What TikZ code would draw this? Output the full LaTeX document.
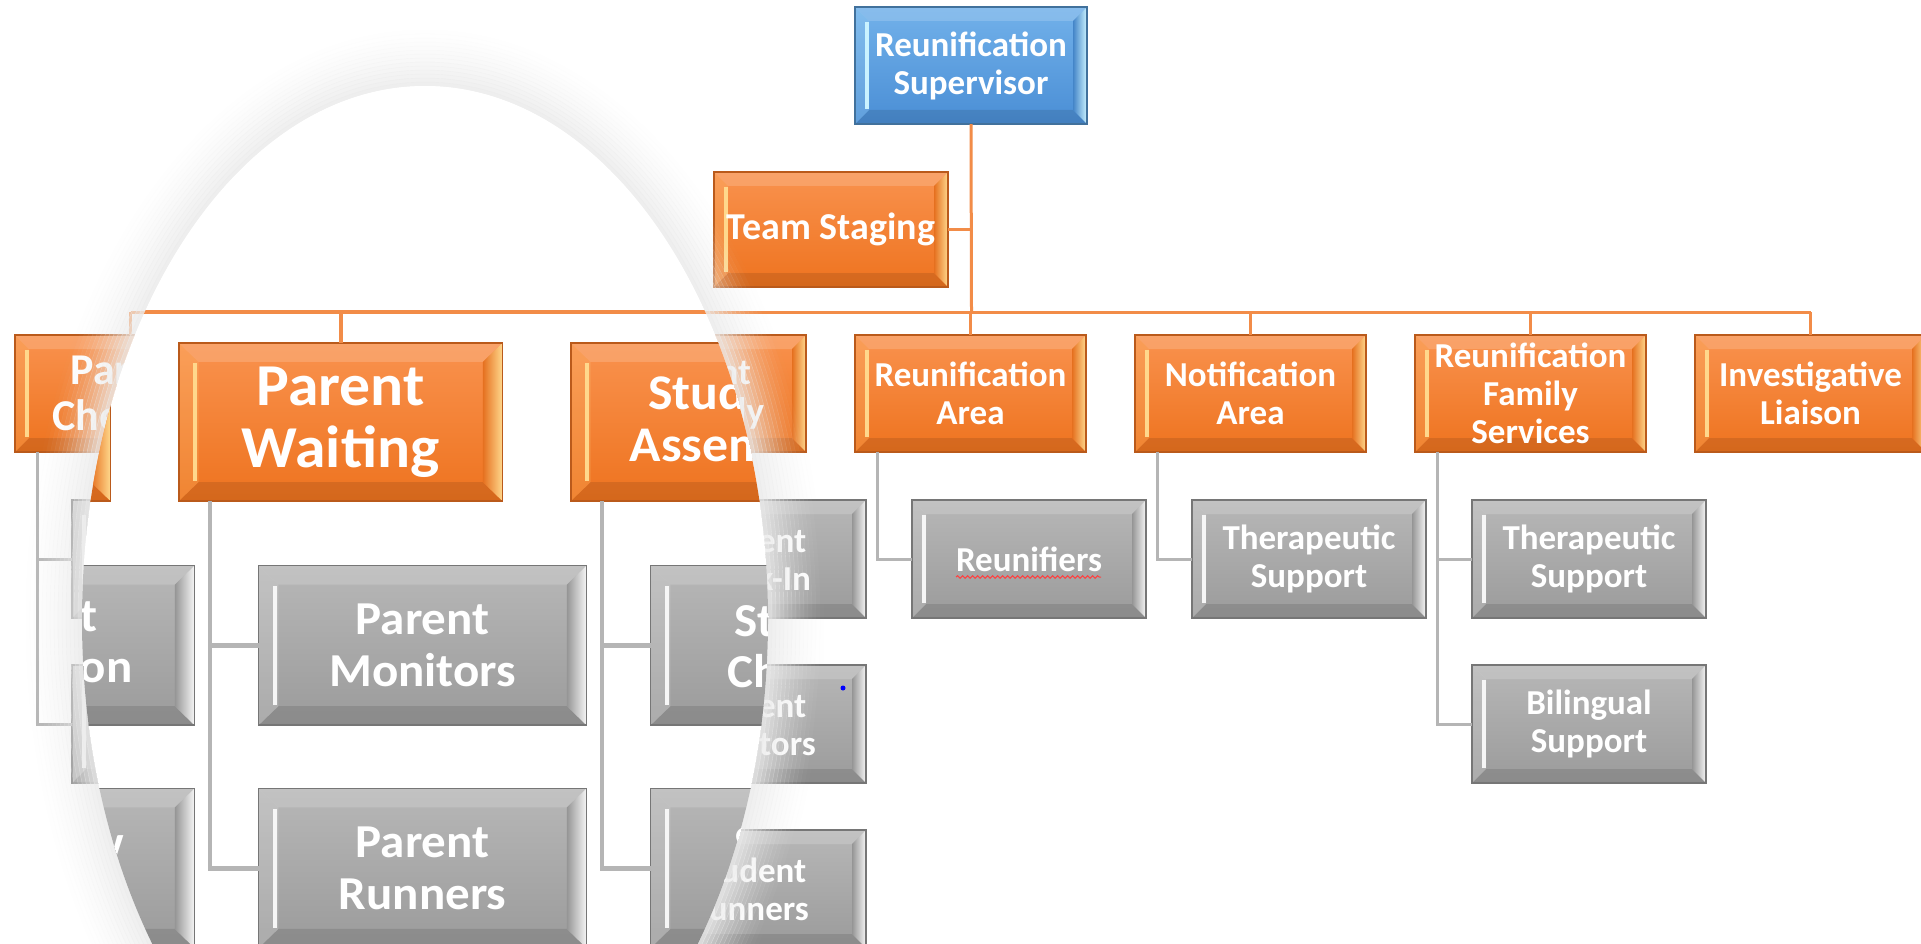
\documentclass[tikz,border=0pt]{standalone}
\usepackage{fontspec}
\setmainfont{Carlito}
\usetikzlibrary{decorations.pathmorphing}
\definecolor{otop}{HTML}{F9924E}
\definecolor{obot}{HTML}{EE731F}
\definecolor{ohi}{HTML}{FFD88C}
\definecolor{odark}{HTML}{E5701F}
\definecolor{oborder}{HTML}{BA5A1B}
\definecolor{gtop}{HTML}{B7B7B7}
\definecolor{gbot}{HTML}{9B9B9B}
\definecolor{ghi}{HTML}{F6F6F6}
\definecolor{gdark}{HTML}{959595}
\definecolor{gborder}{HTML}{767676}
\definecolor{btop}{HTML}{72B1EA}
\definecolor{bbot}{HTML}{4A8ED5}
\definecolor{bhi}{HTML}{C9F2FF}
\definecolor{bdark}{HTML}{4485C8}
\definecolor{bborder}{HTML}{41719C}
\definecolor{olinec}{HTML}{F28C48}
\definecolor{glinec}{HTML}{B5B5B5}
\definecolor{shadowc}{HTML}{EBEBEB}
\tikzset{
  ofill/.style={top color=otop, bottom color=obot},
  gfill/.style={top color=gtop, bottom color=gbot},
  bfill/.style={top color=btop, bottom color=bbot},
  boxtext/.style={transform shape, inner sep=0pt, align=center, text=white},
  oline/.style={draw=olinec, line width=\olw},
  gline/.style={draw=glinec, line width=\glw},
}
\newcommand\ftA{\fontsize{35}{38}\selectfont\bfseries}
\newcommand\ftT{\fontsize{38}{40}\selectfont\bfseries}
\newcommand\ftC{\fontsize{37}{39}\selectfont\bfseries}
\newcommand\ftB{\fontsize{44}{46}\selectfont\bfseries}
\def\bd{14}
\def\olw{3pt}
\def\glw{3pt}
% #1 name, #2 kind (o,g,b), #3 x0, #4 y0, #5 w, #6 h, #7 font, #8 text
\newcommand\chartbox[8]{%
  \pgfmathsetmacro\xa{#3}\pgfmathsetmacro\ya{#4}%
  \pgfmathsetmacro\xb{#3+#5}\pgfmathsetmacro\yb{#4+#6}%
  \pgfmathsetmacro\xc{#3+\bd}\pgfmathsetmacro\yc{#4+\bd}%
  \pgfmathsetmacro\xd{#3+#5-\bd}\pgfmathsetmacro\yd{#4+#6-\bd}%
  \path[#2fill] (\xa,\ya) rectangle (\xb,\yb);
  \fill[white,opacity=.16] (\xa,\ya)--(\xb,\ya)--(\xd,\yc)--(\xc,\yc)--cycle;
  \fill[black,opacity=.10] (\xa,\yb)--(\xb,\yb)--(\xd,\yd)--(\xc,\yd)--cycle;
  \fill[color=#2hi,opacity=.18] (\xa,\ya)--(\xc,\yc)--(\xc,\yd)--(\xa,\yb)--cycle;
  \draw[color=#2hi, line width=4pt] (\xc-2.5,\yc+1)--(\xc-2.5,\yd-1);
  \shade[left color=#2dark, right color=#2hi] (\xb,\ya)--(\xd,\yc)--(\xd,\yd)--(\xb,\yb)--cycle;
  \draw[color=#2border, line width=1.3pt] (\xa,\ya) rectangle (\xb,\yb);
  \node[boxtext, minimum width=#5pt, minimum height=#6pt, font=#7] (#1) at ({(\xa+\xb)/2},{(\ya+\yb)/2}) {#8};
  \coordinate (#1-stem) at (\xa+22,\yb);
}
% boxes of the left branch seen both at normal size and through the lens
\newcommand\leftgroup{%
  \chartbox{pci}{o}{15}{335}{231}{117}{\ftB}{Parent\\Check-In}
  \chartbox{sa}{o}{575}{335}{231}{117}{\ftC}{Student\\Assembly}
  \chartbox{pci1}{g}{72}{500}{234}{118}{\ftA}{Parent\\Reception}
  \chartbox{pci2}{g}{72}{665}{234}{118}{\ftA}{Overflow\\Area}
  \chartbox{sa1}{g}{632}{500}{234}{118}{\ftA}{Student\\Check-In}
  \chartbox{sa2}{g}{632}{665}{234}{118}{\ftA}{Student\\Monitors}
  \coordinate (bar) at (971.5,312);
}
\begin{document}
\begin{tikzpicture}[x=1pt,y=-1pt]
\useasboundingbox (0,0) rectangle (1921,944);
\clip (0,0) rectangle (1921,944);
\fill[white] (0,0) rectangle (1921,944);
% ---------- normal-size chart ----------
\leftgroup
\chartbox{sup}{b}{855}{7}{232}{117}{\ftA}{Reunification\\Supervisor}
\chartbox{ts}{o}{714}{172}{234}{115}{\ftT}{Team Staging}
\chartbox{ra}{o}{855}{335}{231}{117}{\ftA}{Reunification\\Area}
\chartbox{na}{o}{1135}{335}{231}{117}{\ftA}{Notification\\Area}
\chartbox{rfs}{o}{1415}{335}{231}{117}{\ftA}{Reunification\\Family\\Services}
\chartbox{il}{o}{1695}{335}{231}{117}{\ftA}{Investigative\\Liaison}
\chartbox{sa3}{g}{632}{830}{234}{118}{\ftA}{Student\\Runners}
\chartbox{ra1}{g}{912}{500}{234}{118}{\ftA}{Reunifiers}
\chartbox{na1}{g}{1192}{500}{234}{118}{\ftA}{Therapeutic\\Support}
\chartbox{rfs1}{g}{1472}{500}{234}{118}{\ftA}{Therapeutic\\Support}
\chartbox{rfs2}{g}{1472}{665}{234}{118}{\ftA}{Bilingual\\Support}
\draw[oline] (sup.south) -- (bar);
\draw[oline] (ts.east) -- (ts.east -| bar);
\draw[oline] (pci.north |- bar) -- (il.north |- bar);
\foreach \n in {pci,sa,ra,na,rfs,il}{\draw[oline] (\n.north) -- (\n.north |- bar);}
\draw[gline] (pci-stem) |- (pci1.west);
\draw[gline] (pci-stem) |- (pci2.west);
\draw[gline] (sa-stem) |- (sa1.west);
\draw[gline] (sa-stem) |- (sa2.west);
\draw[gline] (sa-stem) |- (sa3.west);
\draw[gline] (ra-stem) |- (ra1.west);
\draw[gline] (na-stem) |- (na1.west);
\draw[gline] (rfs-stem) |- (rfs1.west);
\draw[gline] (rfs-stem) |- (rfs2.west);
\draw[color=red!75!white, line width=1pt, decorate, decoration={snake, amplitude=1.3pt, segment length=5pt}] (956,577) -- (1101,577);
\fill[blue] (843,688) circle [radius=2.5pt];
% ---------- lens shadow ----------
\foreach \i in {1,...,14}{
  \pgfmathsetmacro\rx{343+4*\i-2}
  \pgfmathsetmacro\ry{534+4*\i-2}
  \pgfmathsetmacro\op{0.92*(1-\i/15)^1.6}
  \draw[shadowc, line width=4.4pt, opacity=\op] (425,620) ellipse [x radius=\rx pt, y radius=\ry pt];
}
% ---------- magnified view ----------
\begin{scope}
  \clip (425,620) ellipse [x radius=343pt, y radius=534pt];
  \fill[white] (0,0) rectangle (1921,944);
  \begin{scope}[cm={1.4,0,0,1.35,(-234pt,109.2pt)}, name prefix=m-]
    \def\olw{4.2pt}\def\glw{4.6pt}
    \leftgroup
    \chartbox{pw}{o}{295}{335}{231}{117}{\ftB}{Parent\\Waiting}
    \chartbox{pw1}{g}{352}{500}{234}{118}{\ftA}{Parent\\Monitors}
    \chartbox{pw2}{g}{352}{665}{234}{118}{\ftA}{Parent\\Runners}
    \draw[oline] (pci.north |- bar) -- (sa.north |- bar);
    \foreach \n in {pci,pw,sa}{\draw[oline] (\n.north) -- (\n.north |- bar);}
    \draw[gline] (pci-stem) |- (pci1.west);
    \draw[gline] (pci-stem) |- (pci2.west);
    \draw[gline] (pw-stem) |- (pw1.west);
    \draw[gline] (pw-stem) |- (pw2.west);
    \draw[gline] (sa-stem) |- (sa1.west);
    \draw[gline] (sa-stem) |- (sa2.west);
  \end{scope}
\end{scope}
\end{tikzpicture}
\end{document}
